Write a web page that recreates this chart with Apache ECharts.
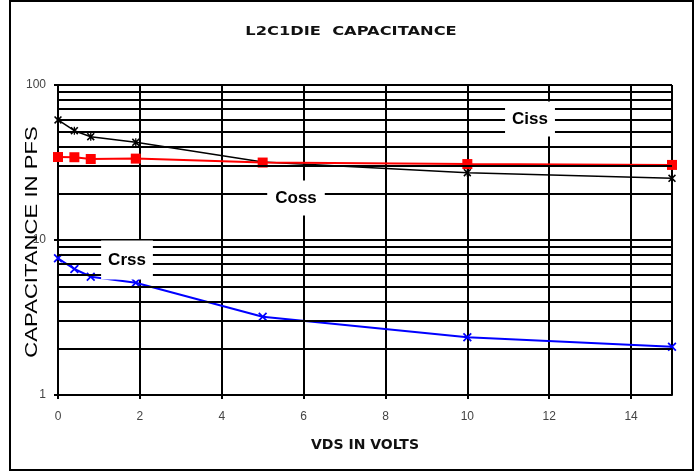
<!DOCTYPE html>
<html>
<head>
<meta charset="utf-8">
<script src="https://cdn.jsdelivr.net/npm/echarts@6/dist/echarts.min.js"></script>
<style>
  html, body { margin: 0; padding: 0; background: #fff; }
  #chart { width: 695px; height: 472px; }
</style>
</head>
<body>
<div id="chart"></div>
<script>
// ---- data ----
const vds = [0, 0.4, 0.8, 1.9, 5, 10, 15];
const ciss = [59.5, 50.7, 46.4, 42.7, 31.9, 27.2, 25.0];
const coss = [34.3, 34.2, 33.3, 33.5, 31.6, 30.9, 30.5];
const crss = [7.62, 6.50, 5.80, 5.30, 3.20, 2.36, 2.05];
const minorGridValues = [2, 3, 4, 5, 6, 7, 8, 9, 20, 30, 40, 50, 60, 70, 80, 90];
const titleText = 'L2C1DIE  CAPACITANCE';
const xName = 'VDS IN VOLTS';
const yName = 'CAPACITANCE IN PFS';
const seriesNames = ['Ciss', 'Coss', 'Crss'];

const pair = arr => vds.map((x, i) => [x, arr[i]]);

const asterisk = 'path://M0,1.4L1.4,0L5,3.6L8.6,0L10,1.4L6.4,5L10,8.6L8.6,10L5,6.4L1.4,10L0,8.6L3.6,5Z M4.2,0L5.8,0L5.8,10L4.2,10Z';
const cross = 'path://M0,1.4L1.4,0L5,3.6L8.6,0L10,1.4L6.4,5L10,8.6L8.6,10L5,6.4L1.4,10L0,8.6L3.6,5Z';

const chart = echarts.init(document.getElementById('chart'));
const black = '#000';
const labelFont = { color: '#444', fontSize: 12, fontFamily: 'Liberation Sans' };

const option = {
  animation: false,
  backgroundColor: '#fff',
  grid: { left: 58, right: 23, top: 85, bottom: 77 },
  xAxis: {
    type: 'value', min: 0, max: 15, interval: 2,
    axisLine: { onZero: false, lineStyle: { color: black, width: 2 } },
    axisTick: { show: true, length: 4, lineStyle: { color: black, width: 2 } },
    axisLabel: Object.assign({ showMaxLabel: false, margin: 16 }, labelFont),
    splitLine: { show: true, lineStyle: { color: black, width: 2 } },
    name: xName, nameLocation: 'middle', nameGap: 43,
    nameTextStyle: { fontFamily: 'DejaVu Sans', fontWeight: 'bold', fontSize: 14, color: '#111' }
  },
  yAxis: {
    type: 'log', logBase: 10, min: 1, max: 100,
    axisLine: { show: true, onZero: false, lineStyle: { color: black, width: 2 } },
    axisTick: { show: true, length: 4, lineStyle: { color: black, width: 2 } },
    axisLabel: Object.assign({ margin: 12 }, labelFont),
    splitLine: { show: true, lineStyle: { color: black, width: 2 } }
  },
  series: [
    {
      type: 'line', data: [], z: 1, silent: true,
      markLine: {
        silent: true, symbol: 'none', animation: false,
        label: { show: false },
        lineStyle: { color: black, width: 2, type: 'solid' },
        emphasis: { disabled: true },
        data: minorGridValues.map(v => ({ yAxis: v }))
      }
    },
    {
      name: seriesNames[0], type: 'line', z: 3, data: pair(ciss),
      symbol: asterisk, symbolSize: 8,
      lineStyle: { color: black, width: 1.5 },
      itemStyle: { color: black }
    },
    {
      name: seriesNames[1], type: 'line', z: 4, data: pair(coss),
      symbol: 'rect', symbolSize: 10,
      lineStyle: { color: '#ff0000', width: 2 },
      itemStyle: { color: '#ff0000' }
    },
    {
      name: seriesNames[2], type: 'line', z: 3, data: pair(crss),
      symbol: cross, symbolSize: 9,
      lineStyle: { color: '#0000ff', width: 2 },
      itemStyle: { color: '#0000ff' }
    }
  ],
  graphic: [
    {
      type: 'rect', silent: true, z: 20,
      shape: { x: 10, y: 1, width: 683, height: 469 },
      style: { fill: 'none', stroke: black, lineWidth: 2 }
    },
    {
      type: 'text', x: 351, y: 32, scaleX: 1.3, z: 20,
      style: { text: titleText, font: 'bold 12.5px "DejaVu Sans"', fill: '#111', align: 'center', verticalAlign: 'middle' }
    },
    {
      type: 'text', x: 32, y: 242, rotation: Math.PI / 2, scaleX: 1.3, z: 20,
      style: { text: yName, font: '17px "Liberation Sans"', fill: '#000', align: 'center', verticalAlign: 'middle' }
    },
    {
      type: 'text', x: 530, y: 119, z: 20,
      style: { text: seriesNames[0], font: 'bold 17px "Liberation Sans"', fill: '#000', align: 'center', verticalAlign: 'middle', backgroundColor: '#fff', padding: [9, 7] }
    },
    {
      type: 'text', x: 296, y: 198, z: 20,
      style: { text: seriesNames[1], font: 'bold 17px "Liberation Sans"', fill: '#000', align: 'center', verticalAlign: 'middle', backgroundColor: '#fff', padding: [9, 8] }
    },
    {
      type: 'text', x: 127, y: 260, z: 20,
      style: { text: seriesNames[2], font: 'bold 17px "Liberation Sans"', fill: '#000', align: 'center', verticalAlign: 'middle', backgroundColor: '#fff', padding: [11, 7] }
    }
  ]
};
chart.setOption(option);
</script>
</body>
</html>
